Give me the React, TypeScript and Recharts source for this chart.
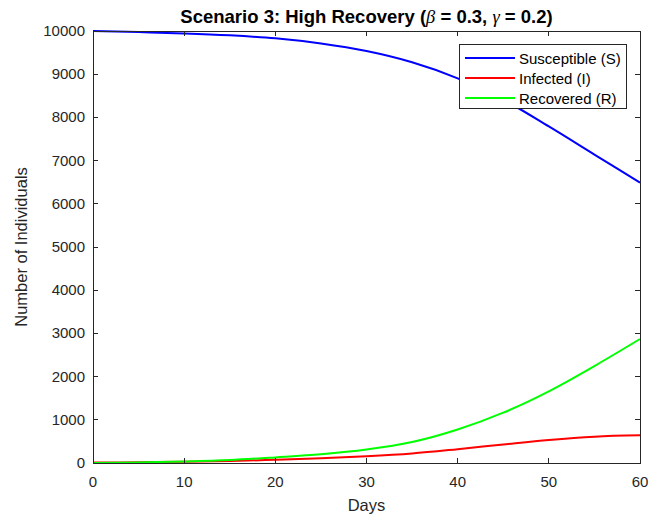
import { LineChart, Line, XAxis, YAxis } from "recharts";

// values (every 5 days)
const days = [0, 5, 10, 15, 20, 25, 30, 35, 40, 45, 50, 55, 60];
const susceptible = [10000, 9975, 9945, 9900, 9830, 9710, 9535, 9275, 8905, 8410, 7790, 7140, 6490];
const infected = [10, 17, 28, 45, 75, 110, 155, 220, 320, 430, 535, 610, 640];
const recovered = [0, 14, 36, 70, 130, 200, 310, 485, 775, 1165, 1660, 2245, 2870];

const xTicks = [0, 10, 20, 30, 40, 50, 60];
const yTicks = [0, 1000, 2000, 3000, 4000, 5000, 6000, 7000, 8000, 9000, 10000];

const series = [
  { key: "S", name: "Susceptible (S)", color: "#0000ff" },
  { key: "I", name: "Infected (I)", color: "#ff0000" },
  { key: "R", name: "Recovered (R)", color: "#00ff00" },
];

const data = days.map((d, i) => ({
  day: d,
  S: susceptible[i],
  I: infected[i],
  R: recovered[i],
}));

const FONT = '"Liberation Sans", Arial, sans-serif';
const AXIS = "#262626";

// plot box edges (follow from the chart margins below)
const PL = 93;
const PT = 31;
const PR = 640;
const PB = 463;

const XTick = (props: any) => {
  const { x, payload } = props;
  return (
    <g>
      <line x1={x} x2={x} y1={PB} y2={PB - 5} stroke={AXIS} shapeRendering="crispEdges" />
      <line x1={x} x2={x} y1={PT} y2={PT + 5} stroke={AXIS} shapeRendering="crispEdges" />
      <text x={x} y={PB + 24} textAnchor="middle" fill={AXIS} fontSize={15} fontFamily={FONT}>
        {payload.value}
      </text>
    </g>
  );
};

const YTick = (props: any) => {
  const { y, payload } = props;
  return (
    <g>
      <line x1={PL} x2={PL + 5} y1={y} y2={y} stroke={AXIS} shapeRendering="crispEdges" />
      <line x1={PR} x2={PR - 5} y1={y} y2={y} stroke={AXIS} shapeRendering="crispEdges" />
      <text x={PL - 8} y={y + 5} textAnchor="end" fill={AXIS} fontSize={15} fontFamily={FONT}>
        {payload.value}
      </text>
    </g>
  );
};

const greek = { fontFamily: '"Liberation Serif", serif', fontStyle: "italic", fontWeight: "normal" } as const;

const App = () => {
  return (
    <div style={{ position: "absolute", left: 0, top: 0, width: 662, height: 515, background: "#fff" }}>
      <div
        style={{
          position: "absolute",
          left: PL - 40,
          width: PR - PL + 80,
          top: 5,
          textAlign: "center",
          fontFamily: FONT,
          fontWeight: "bold",
          fontSize: 18.5,
          lineHeight: "24px",
          color: "#000",
          whiteSpace: "nowrap",
        }}
      >
        Scenario 3: High Recovery (<span style={greek}>β</span>
        {" = 0.3, "}
        <span style={greek}>γ</span>
        {" = 0.2)"}
      </div>
      <LineChart
        width={662}
        height={515}
        data={data}
        margin={{ top: PT, right: 662 - PR, bottom: 0, left: 0 }}
        style={{ position: "absolute", left: 0, top: 0 }}
      >
        <XAxis
          dataKey="day"
          type="number"
          domain={[0, 60]}
          ticks={xTicks}
          height={515 - PB}
          axisLine={false}
          tickLine={false}
          tick={<XTick />}
          label={{
            content: () => (
              <text x={(PL + PR) / 2} y={511} textAnchor="middle" fill={AXIS} fontSize={16.5} fontFamily={FONT}>
                Days
              </text>
            ),
          }}
        />
        <YAxis
          type="number"
          domain={[0, 10000]}
          ticks={yTicks}
          width={PL}
          axisLine={false}
          tickLine={false}
          tick={<YTick />}
          label={{
            content: () => (
              <text
                x={27}
                y={247}
                transform="rotate(-90 27 247)"
                textAnchor="middle"
                fill={AXIS}
                fontSize={16.5}
                fontFamily={FONT}
              >
                Number of Individuals
              </text>
            ),
          }}
        />
        {series.map((s) => (
          <Line
            key={s.key}
            type="monotone"
            dataKey={s.key}
            name={s.name}
            stroke={s.color}
            strokeWidth={2}
            dot={false}
            isAnimationActive={false}
          />
        ))}
      </LineChart>
      <div
        style={{
          position: "absolute",
          left: PL,
          top: PT,
          width: PR - PL + 1,
          height: PB - PT + 1,
          boxSizing: "border-box",
          border: `1px solid ${AXIS}`,
          pointerEvents: "none",
        }}
      />
      <div
        style={{
          position: "absolute",
          left: 459,
          top: 44,
          width: 168,
          height: 65,
          boxSizing: "border-box",
          border: `1px solid ${AXIS}`,
          background: "#fff",
          paddingTop: 3,
          fontFamily: FONT,
          fontSize: 15,
          color: "#000",
        }}
      >
        {series.map((s) => (
          <div key={s.key} style={{ display: "flex", alignItems: "center", height: 20 }}>
            <div style={{ width: 50, height: 2, background: s.color, marginLeft: 5, marginRight: 4 }} />
            <span>{s.name}</span>
          </div>
        ))}
      </div>
    </div>
  );
};

export default App;
